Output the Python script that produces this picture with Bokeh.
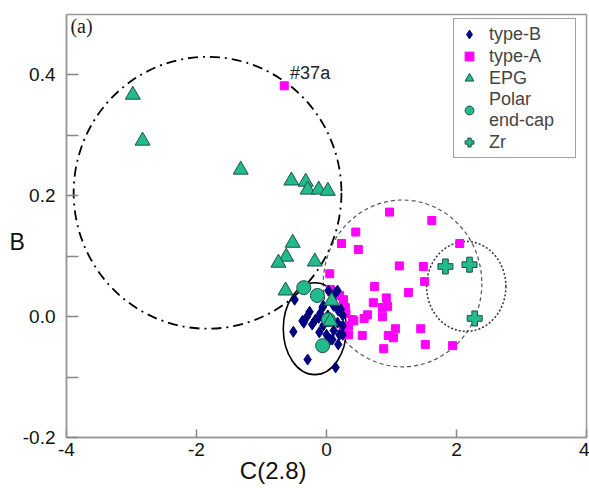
from bokeh.plotting import figure
from bokeh.models import Range1d, FixedTicker, Label, Legend, LegendItem
from bokeh.embed import file_html
from bokeh.resources import INLINE

# ---- data ----
typeB_x = [-0.49, -0.26, -0.12, -0.06, 0.11, 0.18, 0.25, -0.35, -0.22, -0.51, -0.11, 0.11, 0.25, 0.09,
           0.18, -0.29, 0.14, 0.03, 0.14, -0.05, 0.02, 0.17, 0.25, -0.05, -0.17, -0.37, 0.06, 0.17, 0.09,
           0.22, -0.30, 0.00, 0.20, -0.10]
typeB_y = [0.028, 0.008, -0.002, 0.015, 0.018, 0.010, 0.002, -0.010, -0.013, -0.025, -0.026, -0.023, -0.030,
           -0.038, -0.046, -0.071, -0.084, 0.043, 0.040, 0.018, 0.002, -0.010, -0.015, -0.015, -0.005, -0.007,
           -0.038, 0.043, 0.031, 0.012, 0.000, -0.030, -0.030, 0.005]

typeA_x = [0.97, 1.62, 0.45, 0.23, 0.49, 2.05, 1.12, 1.49, 1.51, 0.05, 1.26, 0.74, 0.92, 0.72, 0.86, 0.94,
           0.63, 0.58, 0.86, 0.42, 1.06, 1.45, 0.55, 0.95, 1.03, 0.88, 1.52, 1.94, -0.65, 0.26, 0.29, 0.40,
           0.34, 0.34, 0.06, 0.26, 0.30, 0.20]
typeA_y = [0.173, 0.159, 0.140, 0.121, 0.111, 0.121, 0.084, 0.083, 0.058, 0.071, 0.040, 0.050, 0.031, 0.023,
           0.015, 0.017, 0.003, -0.003, 0.000, -0.007, -0.020, -0.020, -0.031, -0.031, -0.035, -0.053, -0.046,
           -0.048, 0.382, 0.028, 0.015, -0.005, -0.015, -0.030, 0.045, -0.022, 0.005, 0.035]

epg_x = [-2.98, -2.83, -1.32, -0.54, -0.32, -0.29, -0.12, 0.02, -0.52, -0.62, -0.74, -0.18, -0.63, 0.08, 0.06]
epg_y = [0.367, 0.291, 0.243, 0.225, 0.223, 0.210, 0.210, 0.208, 0.122, 0.099, 0.089, 0.091, 0.043, 0.026, -0.008]

polar_x = [-0.35, -0.14, -0.06, 0.03]
polar_y = [0.048, 0.035, -0.048, -0.005]

zr_x = [1.83, 2.20, 2.28]
zr_y = [0.083, 0.086, -0.003]

# ellipses: center x, center y, width, height
ell_x = [-1.83, 1.17, 2.15, -0.18]
ell_y = [0.205, 0.055, 0.050, -0.020]
ell_w = [4.12, 2.44, 1.22, 0.97]
ell_h = [0.450, 0.276, 0.149, 0.152]

x_ticks = [-4, -2, 0, 2, 4]
x_tick_labels = ["-4", "-2", "0", "2", "4"]
y_ticks = [-0.2, -0.1, 0.0, 0.1, 0.2, 0.3, 0.4]
y_tick_labels = ["-0.2", "", "0.0", "", "0.2", "", "0.4"]

TEAL = "#22BB8E"
EDGE = "#1E4F42"
NB = "\u00a0"

p = figure(width=589, height=488, output_backend="svg", toolbar_location=None,
           x_range=Range1d(-4, 4), y_range=Range1d(-0.2, 0.5),
           min_border_left=66, min_border_right=3, min_border_top=14, min_border_bottom=51)
p.grid.visible = False
p.background_fill_color = "white"
p.border_fill_color = "white"
p.outline_line_color = "#999999"
p.outline_line_width = 1.5

for ax in (p.xaxis[0], p.yaxis[0]):
    ax.axis_line_color = "#999999"
    ax.axis_line_width = 1.5
    ax.major_tick_line_color = "#888888"
    ax.major_tick_line_width = 1.5
    ax.major_tick_out = 0
    ax.minor_tick_line_color = None
    ax.major_label_text_font = "Liberation Sans"
    ax.major_label_text_font_size = "19px"
    ax.major_label_text_color = "#111111"
    ax.axis_label_text_font = "Liberation Sans"
    ax.axis_label_text_font_style = "normal"
    ax.axis_label_text_color = "#111111"

p.xaxis.ticker = FixedTicker(ticks=x_ticks)
p.xaxis.major_label_overrides = {t: l for t, l in zip(x_ticks, x_tick_labels)}
p.xaxis.major_tick_in = 8
p.xaxis.major_label_standoff = 5
p.xaxis.axis_label = "C(2.8)" + NB * 16
p.xaxis.axis_label_text_font_size = "24px"
p.xaxis.axis_label_standoff = -2

p.yaxis.ticker = FixedTicker(ticks=y_ticks)
p.yaxis.major_label_overrides = {t: l for t, l in zip(y_ticks, y_tick_labels)}
p.yaxis.major_tick_in = 12
p.yaxis.major_label_standoff = 11
p.yaxis.axis_label = NB + "\nB"
p.yaxis.axis_label_orientation = "horizontal"
p.yaxis.axis_label_text_font_size = "23px"
p.yaxis.axis_label_standoff = -5

# ellipses
p.ellipse(x=ell_x[0], y=ell_y[0], width=ell_w[0], height=ell_h[0], fill_color=None,
          line_color="black", line_width=1.8, line_dash="10 5 2 5")
p.ellipse(x=ell_x[1], y=ell_y[1], width=ell_w[1], height=ell_h[1], fill_color=None,
          line_color="#555555", line_width=1.2, line_dash="4 3")
p.ellipse(x=ell_x[2], y=ell_y[2], width=ell_w[2], height=ell_h[2], fill_color=None,
          line_color="#333333", line_width=1.5, line_dash="2 2")
p.ellipse(x=ell_x[3], y=ell_y[3], width=ell_w[3], height=ell_h[3], fill_color=None,
          line_color="black", line_width=1.6)

rA = p.scatter(typeA_x, typeA_y, marker="square", size=8, fill_color="#FF00FF", line_color="#FF00FF")
rB = p.scatter(typeB_x, typeB_y, marker="diamond", size=11, fill_color="#00007F", line_color="#00007F")
rP = p.scatter(polar_x, polar_y, marker="circle", size=14, fill_color=TEAL, line_color=EDGE, line_width=1)
rE = p.scatter(epg_x, epg_y, marker="triangle", size=15, fill_color=TEAL, line_color=EDGE, line_width=1)
rZ = p.scatter(zr_x, zr_y, marker="plus", size=15, fill_color=TEAL, line_color=EDGE, line_width=1)

legend = Legend(items=[
    LegendItem(label="type-B", renderers=[rB]),
    LegendItem(label="type-A", renderers=[rA]),
    LegendItem(label="EPG", renderers=[rE]),
    LegendItem(label="Polar\nend-cap", renderers=[rP]),
    LegendItem(label="Zr", renderers=[rZ]),
], location=(387, 279))
legend.label_text_font = "Liberation Sans"
legend.label_text_font_size = "18px"
legend.label_text_line_height = 1.1
legend.label_height = 20
legend.label_width = 82
legend.glyph_height = 22
legend.glyph_width = 22
legend.label_standoff = 9
legend.spacing = 0
legend.padding = 4
legend.margin = 0
legend.border_line_color = "#444444"
legend.border_line_width = 1
legend.background_fill_alpha = 1
p.add_layout(legend, "center")

p.add_layout(Label(x=-3.94, y=0.463, text="(a)", text_font="Liberation Serif",
                   text_font_size="20px", text_color="#222222"))
p.add_layout(Label(x=-0.56, y=0.386, text="#37a", text_font="Liberation Sans",
                   text_font_size="18px", text_color="#222222"))

open("out.html", "w").write(file_html(p, INLINE))
